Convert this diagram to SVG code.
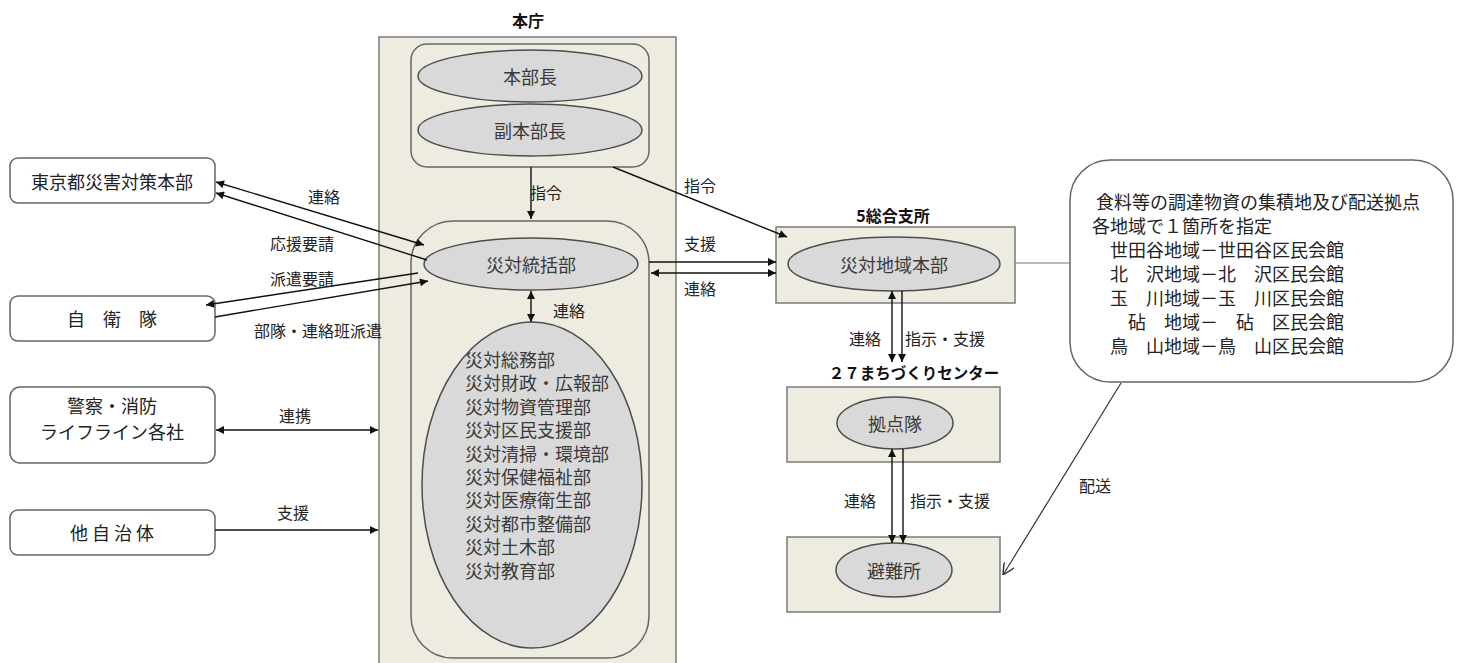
<svg xmlns="http://www.w3.org/2000/svg" width="1458" height="663" viewBox="0 0 1458 663">
<style>
text{font-family:"Noto Sans CJK JP","Noto Sans CJK SC",sans-serif;fill:#222;dominant-baseline:central}
.n{font-size:18px;text-anchor:middle}
.lb{font-size:16px;text-anchor:middle}
.b{font-weight:bold;font-size:16px;text-anchor:middle;fill:#111}
.el{fill:#d9d9d9;stroke:#4d4d4d;stroke-width:1.5}
.et{font-size:18px;text-anchor:middle;fill:#3a3a3a}
.dt{font-size:18px;fill:#3a3a3a}
.ct{font-size:18px;fill:#222}
.bg{fill:#eeece1;stroke:#7a7a7a;stroke-width:1.5}
.rr{fill:none;stroke:#666;stroke-width:1.5}
.wb{fill:#fff;stroke:#666;stroke-width:1.5}
.c{stroke:#111;stroke-width:1.4;fill:none}
</style>
<defs>
<marker id="a" viewBox="0 0 10 10" refX="10" refY="5" markerUnits="userSpaceOnUse" markerWidth="9" markerHeight="8" orient="auto-start-reverse"><path d="M0,0 L10,5 L0,10 z" fill="#111"/></marker>
<marker id="o" viewBox="0 0 10 10" refX="10" refY="5" markerUnits="userSpaceOnUse" markerWidth="12" markerHeight="12" orient="auto"><path d="M0,0 L10,5 L0,10" fill="none" stroke="#333" stroke-width="1.2"/></marker>
</defs>

<g id="honcho">
<rect class="bg" x="379" y="37" width="297" height="640"/>
<text class="b" x="528" y="20">本庁</text>
</g>
<g id="top-box">
<rect class="rr" x="411" y="44" width="238" height="123" rx="16"/>
</g>
<g id="honbucho">
<ellipse class="el" cx="530" cy="76" rx="112" ry="26"/>
<text class="et" x="530" y="76">本部長</text>
</g>
<g id="fukuhonbucho">
<ellipse class="el" cx="530" cy="130" rx="112" ry="26"/>
<text class="et" x="530" y="130">副本部長</text>
</g>
<g id="main-box">
<rect class="rr" x="411" y="221" width="238" height="437" rx="42"/>
</g>
<g id="tokatsu">
<ellipse class="el" cx="531" cy="264" rx="107" ry="26"/>
<text class="et" x="531" y="264">災対統括部</text>
</g>
<g id="departments">
<ellipse class="el" cx="532" cy="485" rx="110" ry="163"/>
<text class="dt" x="465" y="359">災対総務部</text>
<text class="dt" x="465" y="382.4">災対財政・広報部</text>
<text class="dt" x="465" y="405.8">災対物資管理部</text>
<text class="dt" x="465" y="429.2">災対区民支援部</text>
<text class="dt" x="465" y="452.6">災対清掃・環境部</text>
<text class="dt" x="465" y="476">災対保健福祉部</text>
<text class="dt" x="465" y="499.4">災対医療衛生部</text>
<text class="dt" x="465" y="522.8">災対都市整備部</text>
<text class="dt" x="465" y="546.2">災対土木部</text>
<text class="dt" x="465" y="569.6">災対教育部</text>
</g>

<g id="tokyo">
<rect class="wb" x="10" y="158" width="205" height="45" rx="8"/>
<text class="n" x="112" y="181">東京都災害対策本部</text>
</g>
<g id="jieitai">
<rect class="wb" x="10" y="296" width="205" height="45" rx="8"/>
<text class="n" x="112" y="318">自　衛　隊</text>
</g>
<g id="police">
<rect class="wb" x="10" y="387" width="205" height="76" rx="10"/>
<text class="n" x="112" y="405">警察・消防</text>
<text class="n" x="112" y="431">ライフライン各社</text>
</g>
<g id="other">
<rect class="wb" x="10" y="510" width="205" height="45" rx="8"/>
<text class="n" x="112" y="532">他 自 治 体</text>
</g>

<g id="shisho">
<rect class="bg" x="776" y="227" width="239" height="76"/>
<text class="b" x="893" y="215">5総合支所</text>
</g>
<g id="chiiki">
<ellipse class="el" cx="894" cy="264" rx="106" ry="27"/>
<text class="et" x="894" y="264">災対地域本部</text>
</g>
<g id="center">
<text class="b" x="914" y="372" style="font-size:15.5px">２７まちづくりセンター</text>
<rect class="bg" x="787" y="387" width="213" height="75"/>
<ellipse class="el" cx="895" cy="423" rx="58" ry="26"/>
<text class="et" x="895" y="423">拠点隊</text>
</g>
<g id="hinanjo">
<rect class="bg" x="787" y="537" width="213" height="75"/>
<ellipse class="el" cx="894" cy="570" rx="58" ry="27"/>
<text class="et" x="894" y="570">避難所</text>
</g>
<g id="callout">
<rect class="wb" x="1070" y="160" width="383" height="222" rx="40"/>
<text class="ct" x="1096" y="201">食料等の調達物資の集積地及び配送拠点</text>
<text class="ct" x="1092" y="225">各地域で１箇所を指定</text>
<text class="ct" x="1110" y="249">世田谷地域－世田谷区民会館</text>
<text class="ct" x="1110" y="273">北　沢地域－北　沢区民会館</text>
<text class="ct" x="1110" y="297">玉　川地域－玉　川区民会館</text>
<text class="ct" x="1110" y="321">　砧　地域－　砧　区民会館</text>
<text class="ct" x="1110" y="345">鳥　山地域－鳥　山区民会館</text>
</g>

<g id="connectors">
<line class="c" x1="531" y1="167" x2="531" y2="219" marker-end="url(#a)"/>
<text class="lb" x="546" y="192">指令</text>
<line class="c" x1="531" y1="291" x2="531" y2="322" marker-start="url(#a)" marker-end="url(#a)"/>
<text class="lb" x="569" y="310">連絡</text>

<line class="c" x1="216" y1="182" x2="424" y2="245" marker-start="url(#a)" marker-end="url(#a)"/>
<text class="lb" x="324" y="196">連絡</text>
<line class="c" x1="427" y1="260" x2="216" y2="193" marker-end="url(#a)"/>
<text class="lb" x="302" y="243">応援要請</text>
<line class="c" x1="418" y1="273" x2="206" y2="305" marker-end="url(#a)"/>
<text class="lb" x="302" y="278">派遣要請</text>
<line class="c" x1="215" y1="317" x2="428" y2="281" marker-end="url(#a)"/>
<text class="lb" x="318" y="330">部隊・連絡班派遣</text>

<line class="c" x1="216" y1="430" x2="378" y2="430" marker-start="url(#a)" marker-end="url(#a)"/>
<text class="lb" x="295" y="415">連携</text>
<line class="c" x1="215" y1="530" x2="378" y2="530" marker-end="url(#a)"/>
<text class="lb" x="293" y="512">支援</text>

<line class="c" x1="613" y1="167" x2="787" y2="237" marker-end="url(#a)"/>
<text class="lb" x="700" y="185">指令</text>
<line class="c" x1="649" y1="262" x2="776" y2="262" marker-end="url(#a)"/>
<text class="lb" x="700" y="243">支援</text>
<line class="c" x1="651" y1="273" x2="776" y2="273" marker-start="url(#a)" marker-end="url(#a)"/>
<text class="lb" x="700" y="288">連絡</text>

<line class="c" x1="892" y1="291" x2="892" y2="362" marker-start="url(#a)" marker-end="url(#a)"/>
<line class="c" x1="902" y1="291" x2="902" y2="362" marker-end="url(#a)"/>
<text class="lb" x="865" y="338">連絡</text>
<text class="lb" x="945" y="338">指示・支援</text>

<line class="c" x1="892" y1="449" x2="892" y2="543" marker-start="url(#a)" marker-end="url(#a)"/>
<line class="c" x1="903" y1="449" x2="903" y2="543" marker-end="url(#a)"/>
<text class="lb" x="860" y="500">連絡</text>
<text class="lb" x="950" y="500">指示・支援</text>

<line x1="1015" y1="263" x2="1070" y2="263" stroke="#777" stroke-width="1.2"/>
<line x1="1121" y1="383" x2="1003" y2="575" stroke="#333" stroke-width="1.2" marker-end="url(#o)"/>
<text class="lb" x="1095" y="485">配送</text>
</g>
</svg>
